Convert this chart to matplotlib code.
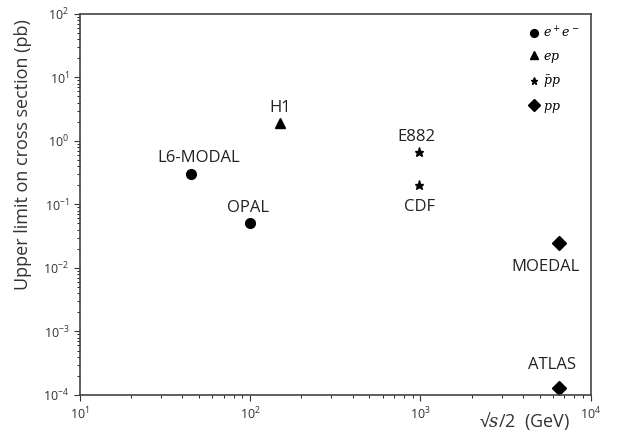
import matplotlib
matplotlib.use('Agg')
import matplotlib.pyplot as plt

plt.rcParams['font.family'] = ['Open Sans', 'DejaVu Sans']
plt.rcParams['mathtext.fontset'] = 'dejavuserif'

# experiments: beam energy sqrt(s)/2 in GeV, upper limit in pb
ee_names = ['L6-MODAL', 'OPAL']
ee_x = [45, 100]
ee_y = [0.3, 0.05]

ep_names = ['H1']
ep_x = [150]
ep_y = [1.9]

ppbar_names = ['E882', 'CDF']
ppbar_x = [980, 980]
ppbar_y = [0.67, 0.2]

pp_names = ['MOEDAL', 'ATLAS']
pp_x = [6500, 6500]
pp_y = [0.025, 1.3e-4]

# label offsets in pixels (dx, dy)
ee_off = [(8, 16), (-2, 15)]
ep_off = [(0, 15)]
ppbar_off = [(-3, 15), (1, -22)]
pp_off = [(-13, -24), (-7, 23)]

fig = plt.figure(figsize=(6.18, 4.33), dpi=100)
ax = fig.add_axes([0.129, 0.088, 0.827, 0.880])

groups = [
    (ee_x, ee_y, ee_names, ee_off, 'o', 7, r'$e^+e^-$'),
    (ep_x, ep_y, ep_names, ep_off, '^', 7, r'$ep$'),
    (ppbar_x, ppbar_y, ppbar_names, ppbar_off, '*', 6.5, r'$\bar{p}p$'),
    (pp_x, pp_y, pp_names, pp_off, 'D', 7.5, r'$pp$'),
]

for xs, ys, names, offs, m, ms, lab in groups:
    ax.plot(xs, ys, linestyle='none', marker=m, markersize=ms, color='black', label=lab)
    for x, y, n, (dx, dy) in zip(xs, ys, names, offs):
        ax.annotate(n, (x, y), xytext=(dx, dy), textcoords='offset pixels',
                    ha='center', va='center', fontsize=12, color='#222222')

ax.set_xscale('log')
ax.set_yscale('log')
ax.set_xlim(10, 1e4)
ax.set_ylim(1e-4, 1e2)

ax.tick_params(axis='both', which='major', labelsize=9, length=4, colors='#333333')
ax.tick_params(axis='both', which='minor', length=2)
for s in ax.spines.values():
    s.set_color('#444444')
    s.set_linewidth(1.2)

ax.set_ylabel('Upper limit on cross section (pb)', fontsize=13, color='#333333')
ax.yaxis.set_label_coords(-0.094, 0.63)
fig.text(0.923, 0.028, r'√$s$/2  (GeV)', ha='right', va='center', fontsize=13, color='#333333')

leg = ax.legend(loc='upper right', frameon=False, fontsize=9, markerscale=0.8,
                handlelength=0.6, handletextpad=0.4, labelspacing=0.75)

fig.savefig('out.png', dpi=100)
